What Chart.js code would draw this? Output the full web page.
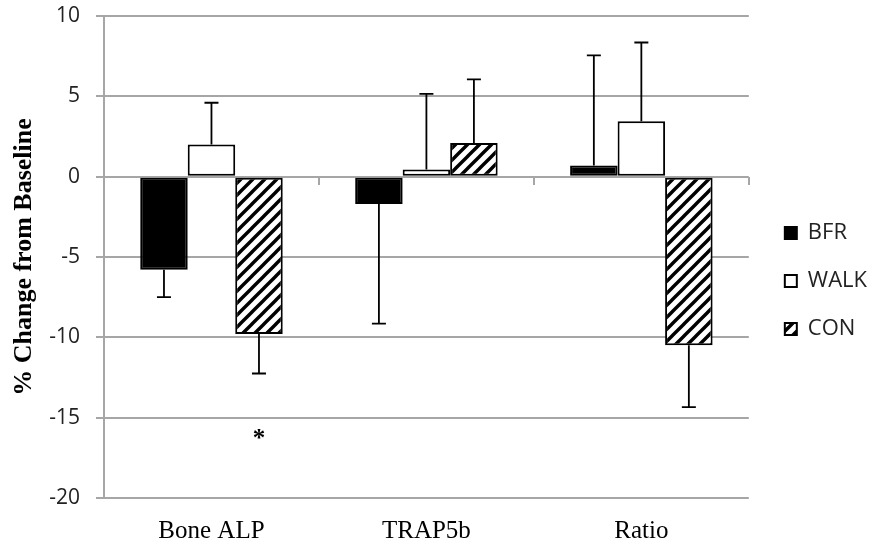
<!DOCTYPE html>
<html lang="en">
<head>
  <meta charset="UTF-8" />
  <title>% Change from Baseline</title>
  <script src="https://cdn.jsdelivr.net/npm/chart.js"></script>
  <style>
    html, body {
      margin: 0;
      padding: 0;
      background: #fff;
    }
    canvas {
      display: block;
    }
  </style>
</head>
<body>
  <canvas id="chart" width="877" height="546"></canvas>

  <script>
    const markers = ["Bone ALP", "TRAP5b", "Ratio"];

    const bfr = [-5.8, -1.7, 0.7];
    const walk = [2.0, 0.45, 3.45];
    const con = [-9.8, 2.1, -10.5];

    // error bars only go away from zero
    const bfrErr = [1.7, 7.45, 6.85];
    const walkErr = [2.6, 4.7, 4.9];
    const conErr = [2.45, 3.95, 3.85];

    // significance mark under the CON bar
    const conSig = ["*", "", ""];
    const sigLevel = -16.1;

    const yMin = -20;
    const yMax = 10;
    const yStep = 5;

    const gridGray = "#a6a6a6";

    // diagonal hatch for CON
    function makeHatch() {
      const size = 12;
      const c = document.createElement("canvas");
      c.width = size;
      c.height = size;
      const g = c.getContext("2d");
      g.fillStyle = "#fff";
      g.fillRect(0, 0, size, size);
      g.strokeStyle = "#000";
      g.lineWidth = 3.4;
      g.beginPath();
      g.moveTo(-2, size + 2);
      g.lineTo(size + 2, -2);
      g.moveTo(-size / 2 - 2, size / 2 + 2);
      g.lineTo(size / 2 + 2, -size / 2 - 2);
      g.moveTo(size / 2 - 2, size * 1.5 + 2);
      g.lineTo(size * 1.5 + 2, size / 2 - 2);
      g.stroke();
      const ctx = document.getElementById("chart").getContext("2d");
      return ctx.createPattern(c, "repeat");
    }

    const errorBars = {
      id: "errorBars",
      afterDatasetsDraw(chart) {
        const ctx = chart.ctx;
        const yScale = chart.scales.y;
        ctx.save();
        ctx.strokeStyle = "#000";
        ctx.lineWidth = 1.8;
        chart.data.datasets.forEach((ds, i) => {
          const meta = chart.getDatasetMeta(i);
          meta.data.forEach((bar, j) => {
            const v = ds.data[j];
            const e = ds.errors[j];
            const end = yScale.getPixelForValue(v < 0 ? v - e : v + e);
            const x = bar.x;
            ctx.beginPath();
            ctx.moveTo(x, bar.y);
            ctx.lineTo(x, end);
            ctx.moveTo(x - 7, end);
            ctx.lineTo(x + 7, end);
            ctx.stroke();

            if (ds.sig && ds.sig[j]) {
              ctx.fillStyle = "#000";
              ctx.font = "bold 25px 'Liberation Serif'";
              ctx.textAlign = "center";
              ctx.textBaseline = "middle";
              ctx.fillText(ds.sig[j], x, yScale.getPixelForValue(sigLevel) + 4);
            }
          });
        });
        ctx.restore();
      },
    };

    const ctx = document.getElementById("chart").getContext("2d");

    new Chart(ctx, {
      type: "bar",
      data: {
        labels: markers,
        datasets: [
          {
            label: "BFR",
            data: bfr,
            errors: bfrErr,
            backgroundColor: "#000",
            borderColor: "#000",
            borderWidth: 2,
            borderSkipped: false,
          },
          {
            label: "WALK",
            data: walk,
            errors: walkErr,
            backgroundColor: "#fff",
            borderColor: "#000",
            borderWidth: 2,
            borderSkipped: false,
          },
          {
            label: "CON",
            data: con,
            errors: conErr,
            sig: conSig,
            backgroundColor: makeHatch(),
            borderColor: "#000",
            borderWidth: 2,
            borderSkipped: false,
          },
        ],
      },
      options: {
        responsive: false,
        animation: false,
        devicePixelRatio: 1,
        categoryPercentage: 0.663,
        barPercentage: 1,
        layout: {
          padding: { top: 16, left: 0, right: 0, bottom: 0 },
        },
        plugins: {
          tooltip: { enabled: false },
          legend: {
            position: "right",
            labels: {
              boxWidth: 12,
              boxHeight: 12,
              padding: 26,
              color: "#222",
              font: { family: "'Open Sans'", size: 22 },
            },
          },
        },
        scales: {
          // category axis sitting on the zero line, tick marks only
          x: {
            position: { y: 0 },
            offset: true,
            grid: {
              offset: true,
              drawOnChartArea: false,
              drawTicks: true,
              tickLength: 8,
              color: gridGray,
              lineWidth: 2,
            },
            border: { display: false },
            ticks: { display: false },
          },
          // category names along the bottom
          x2: {
            type: "category",
            position: "bottom",
            offset: true,
            grid: { display: false, drawTicks: false },
            border: { display: false },
            ticks: {
              color: "#000",
              padding: 18,
              font: { family: "'Liberation Serif'", size: 25 },
            },
            afterFit(scale) {
              scale.height = 48;
            },
          },
          y: {
            min: yMin,
            max: yMax,
            ticks: {
              stepSize: yStep,
              padding: 16,
              color: "#222",
              font: { family: "'Open Sans'", size: 21 },
            },
            grid: {
              color: gridGray,
              lineWidth: 2,
              tickLength: 8,
            },
            border: { color: gridGray, width: 2 },
            title: {
              display: true,
              text: "% Change from Baseline",
              color: "#000",
              padding: { top: 9, bottom: 0 },
              font: { family: "'Liberation Serif'", size: 26, weight: "bold" },
            },
            afterFit(scale) {
              scale.width = 104;
              // let the layout padding alone decide the top edge
              scale.paddingTop = 0;
              scale.paddingBottom = 0;
            },
          },
          // empty gap between the plot and the legend
          gap: {
            position: "right",
            grid: { display: false },
            border: { display: false },
            ticks: { display: false },
            afterFit(scale) {
              scale.width = 10;
              scale.paddingTop = 0;
              scale.paddingBottom = 0;
            },
          },
        },
      },
      plugins: [errorBars],
    });
  </script>
</body>
</html>
